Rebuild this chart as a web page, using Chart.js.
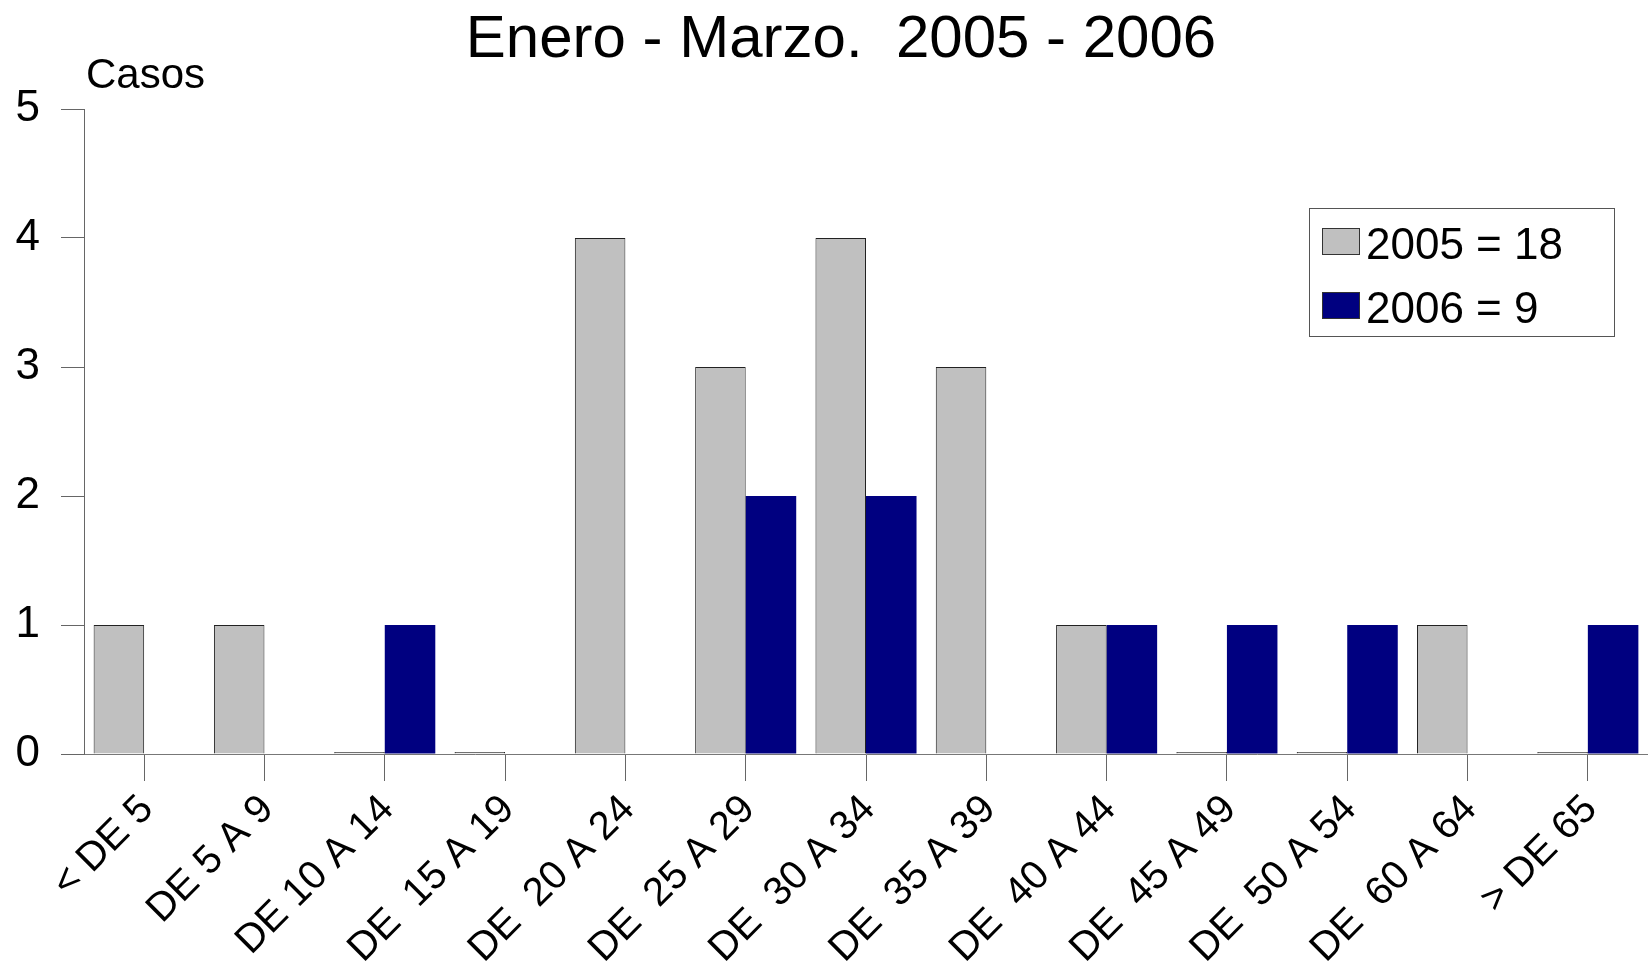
<!DOCTYPE html>
<html>
<head>
<meta charset="utf-8">
<script src="https://cdn.jsdelivr.net/npm/chart.js@4.4.1/dist/chart.umd.min.js"></script>
<style>
  html, body { margin: 0; padding: 0; background: #fff; }
  #wrap { width: 1648px; height: 963px; }
</style>
</head>
<body>
<div id="wrap"><canvas id="casosChart" width="1648" height="963"></canvas></div>
<script>
const categories = ["< DE 5", "DE 5 A 9", "DE 10 A 14", "DE  15 A 19", "DE  20 A 24",
  "DE  25 A 29", "DE  30 A 34", "DE  35 A 39", "DE  40 A 44", "DE  45 A 49",
  "DE  50 A 54", "DE  60 A 64", "> DE 65"];
const casos2005 = [1, 1, 0, 0, 4, 3, 4, 3, 1, 0, 0, 1, 0];
const casos2006 = [0, 0, 1, 0, 0, 2, 2, 0, 1, 1, 1, 0, 1];
const seriesLabels = ["2005 = 18", "2006 = 9"];
const yTicks = [0, 1, 2, 3, 4, 5];

const FONT = "'Liberation Sans', Arial, sans-serif";

// titulo, "Casos" y la leyenda con recuadro
const extras = {
  id: "extras",
  afterDraw(chart) {
    const c = chart.ctx;
    c.save();
    c.fillStyle = "#000";
    c.textBaseline = "alphabetic";
    c.textAlign = "center";
    c.font = "60px " + FONT;
    c.fillText("Enero - Marzo.  2005 - 2006", 841, 57);
    c.textAlign = "left";
    c.font = "42px " + FONT;
    c.fillText("Casos", 86, 88);

    // leyenda
    c.strokeStyle = "#555";
    c.lineWidth = 1;
    c.fillStyle = "#fff";
    c.fillRect(1309.5, 208.5, 305, 128);
    c.strokeRect(1309.5, 208.5, 305, 128);
    chart.data.datasets.forEach((ds, i) => {
      const y = 228 + i * 64;
      c.fillStyle = ds.backgroundColor;
      c.fillRect(1322, y, 38, 27);
      c.strokeStyle = "#333";
      c.strokeRect(1322.5, y + 0.5, 37, 26);
      c.fillStyle = "#000";
      c.font = "44px " + FONT;
      c.fillText(ds.label, 1366, y + 31);
    });
    c.restore();
  }
};

new Chart(document.getElementById("casosChart"), {
  type: "bar",
  data: {
    labels: categories,
    datasets: [
      {
        label: seriesLabels[0],
        data: casos2005,
        backgroundColor: "#C0C0C0",
        borderColor: "#222",
        borderWidth: 1,
        minBarLength: 2
      },
      {
        label: seriesLabels[1],
        data: casos2006,
        backgroundColor: "#000080",
        borderColor: "#000080",
        borderWidth: 0
      }
    ]
  },
  options: {
    responsive: false,
    animation: false,
    devicePixelRatio: 1,
    layout: { padding: { top: 109, left: 0, right: 0, bottom: 0 } },
    datasets: { bar: { categoryPercentage: 0.84, barPercentage: 1.0 } },
    plugins: {
      legend: { display: false },
      title: { display: false },
      tooltip: { enabled: false }
    },
    scales: {
      x: {
        afterFit(scale) { scale.height = 209; },
        grid: { drawOnChartArea: false, drawTicks: true, tickLength: 27, offset: false, color: "#666" },
        border: { color: "#777" },
        ticks: {
          color: "#000",
          font: { family: FONT, size: 40 },
          minRotation: 45,
          maxRotation: 45,
          autoSkip: false,
          padding: 5,
          labelOffset: 3
        }
      },
      y: {
        min: 0,
        max: 5,
        afterFit(scale) { scale.width = 84; },
        afterBuildTicks(scale) { scale.ticks = yTicks.map(v => ({ value: v })); },
        grid: { drawOnChartArea: false, drawTicks: true, tickLength: 23, color: "#666" },
        border: { color: "#666" },
        ticks: {
          color: "#000",
          font: { family: FONT, size: 44 },
          padding: 21
        }
      }
    }
  },
  plugins: [extras]
});
</script>
</body>
</html>
